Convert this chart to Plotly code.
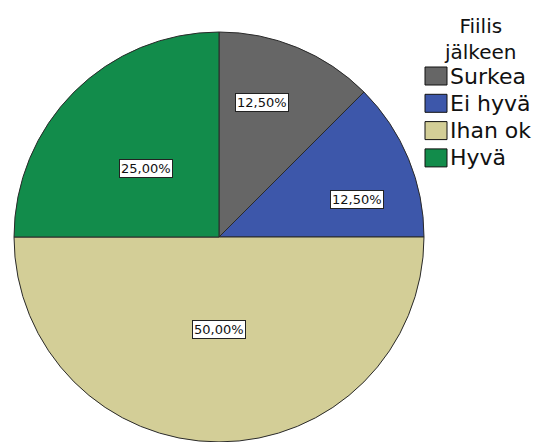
import plotly.graph_objects as go

# Data
categories = ["Surkea", "Ei hyvä", "Ihan ok", "Hyvä"]
percent_values = [12.5, 12.5, 50.0, 25.0]
percent_labels = ["12,50%", "12,50%", "50,00%", "25,00%"]
legend_title = "Fiilis<br>jälkeen"

# Styles
colors = ["#666666", "#3d57aa", "#d3ce97", "#128c4b"]
W, H = 542, 442
ML, MR, MT, MB = 0, 0, 32, 0
PW, PH = W - ML - MR, H - MT - MB
FONT = "DejaVu Sans"

# label box centres (pixels) for each slice
label_px = [(262, 103), (357, 200), (219, 329), (146, 168)]


def px(x, y):
    return (x - ML) / PW, 1 - (y - MT) / PH


fig = go.Figure(
    go.Pie(
        labels=categories,
        values=percent_values,
        sort=False,
        direction="clockwise",
        rotation=0,
        textinfo="none",
        hoverinfo="label+percent",
        marker=dict(colors=colors, line=dict(color="#2a2a2a", width=1)),
        domain=dict(x=[0, 438 / PW], y=[0, 1]),
        showlegend=False,
    )
)

annotations = []
for (lx, ly), txt in zip(label_px, percent_labels):
    xp, yp = px(lx, ly)
    annotations.append(
        dict(
            x=xp, y=yp, xref="paper", yref="paper", text=txt, showarrow=False,
            font=dict(family=FONT, size=13, color="#111111"),
            bgcolor="white", bordercolor="#222222", borderwidth=1, borderpad=1,
            xanchor="center", yanchor="middle",
        )
    )

# legend title
tx, ty = px(480, 39)
annotations.append(
    dict(x=tx, y=ty, xref="paper", yref="paper", text=legend_title, showarrow=False,
         font=dict(family=FONT, size=20, color="#111111"), align="center",
         xanchor="center", yanchor="middle")
)

shapes = []
row_top = 67
row_step = 27.3
for i, (cat, col) in enumerate(zip(categories, colors)):
    top = row_top + i * row_step
    x0, y0 = px(425, top)
    x1, y1 = px(447, top + 18)
    shapes.append(dict(type="rect", xref="paper", yref="paper", x0=x0, x1=x1, y0=y1, y1=y0,
                       fillcolor=col, line=dict(color="#111111", width=1)))
    lx, ly = px(448, top + 9)
    annotations.append(
        dict(x=lx, y=ly, xref="paper", yref="paper", text=cat, showarrow=False,
             font=dict(family=FONT, size=22, color="#111111"),
             xanchor="left", yanchor="middle")
    )

fig.update_layout(
    width=W, height=H,
    margin=dict(l=ML, r=MR, t=MT, b=MB),
    paper_bgcolor="white", plot_bgcolor="white",
    annotations=annotations, shapes=shapes,
    showlegend=False,
)

fig.write_html("out.html")
